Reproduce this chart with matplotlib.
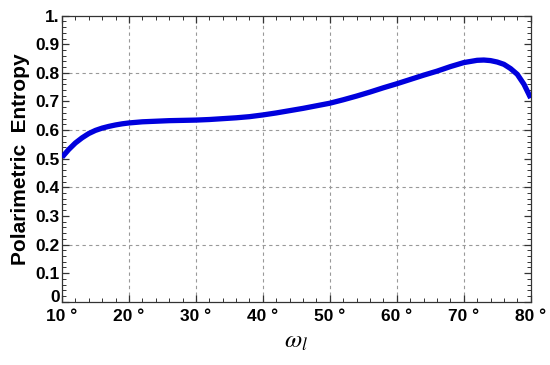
import matplotlib
matplotlib.use("Agg")
import matplotlib.pyplot as plt
from matplotlib.ticker import MultipleLocator

angles = [10, 11, 12, 13, 14, 15, 16, 17, 18, 19, 20, 22, 24, 26, 28, 30, 32, 34, 36, 38,
          40, 42, 44, 46, 48, 50, 52, 54, 56, 58, 60, 62, 64, 66, 68, 70, 71, 72, 73, 74,
          75, 76, 77, 78, 79, 80]
entropy = [0.505, 0.532, 0.555, 0.573, 0.588, 0.599, 0.607, 0.613, 0.618, 0.622, 0.625,
           0.629, 0.631, 0.633, 0.634, 0.635, 0.637, 0.640, 0.643, 0.647, 0.653, 0.660,
           0.668, 0.676, 0.685, 0.694, 0.706, 0.719, 0.733, 0.748, 0.762, 0.777, 0.792,
           0.806, 0.822, 0.836, 0.840, 0.844, 0.845, 0.843, 0.838, 0.830, 0.815, 0.795,
           0.760, 0.712]

xticks = [10, 20, 30, 40, 50, 60, 70, 80]
xticklabels = ["10 °", "20 °", "30 °", "40 °", "50 °", "60 °", "70 °", "80 °"]
yticks = [0, 0.1, 0.2, 0.3, 0.4, 0.5, 0.6, 0.7, 0.8, 0.9, 1.0]
yticklabels = ["0", "0.1", "0.2", "0.3", "0.4", "0.5", "0.6", "0.7", "0.8", "0.9", "1."]
ygrid = [0.2, 0.4, 0.6, 0.8]
xgrid = [20, 30, 40, 50, 60, 70]

plt.rcParams['font.family'] = ['Liberation Sans', 'DejaVu Sans']
plt.rcParams['mathtext.fontset'] = 'stix'

fig = plt.figure(figsize=(5.5, 3.65), dpi=100)
ax = fig.add_axes([0.1127, 0.1734, 0.8522, 0.7836])

for gx in xgrid:
    ax.axvline(gx, color='#999999', ls=(0, (3, 3)), lw=0.8, zorder=1)
for gy in ygrid:
    ax.axhline(gy, color='#999999', ls=(0, (3, 3)), lw=0.8, zorder=1)

ax.plot(angles, entropy, color='#0000dd', lw=3.8, solid_capstyle='butt', zorder=3)

ax.set_xlim(10, 80)
ax.set_ylim(0, 1)
ax.set_xticks(xticks)
ax.set_xticklabels(xticklabels, fontsize=12.5, fontweight='bold')
ax.set_yticks(yticks)
ax.set_yticklabels(yticklabels, fontsize=12.5, fontweight='bold')
ax.xaxis.set_minor_locator(MultipleLocator(2))
ax.yaxis.set_minor_locator(MultipleLocator(0.02))
ax.tick_params(which='both', direction='in', top=True, right=True, color='#333333')
ax.tick_params(axis='x', which='major', length=5, width=0.9, pad=5)
ax.tick_params(axis='y', which='major', length=5, width=0.9, pad=1.5)
ax.tick_params(which='minor', length=3, width=0.7)
for s in ax.spines.values():
    s.set_color('#333333')
    s.set_linewidth(0.9)

# lift the "0" label so it sits just above the "10 °" label, as in the reference
ax.get_yticklabels()[0].set_verticalalignment('baseline')

ax.set_ylabel("Polarimetric  Entropy", fontsize=15, fontweight='bold', labelpad=4)
ax.set_xlabel(r"$\omega_l$", fontsize=18, labelpad=4)

fig.savefig("out.png", dpi=100)
